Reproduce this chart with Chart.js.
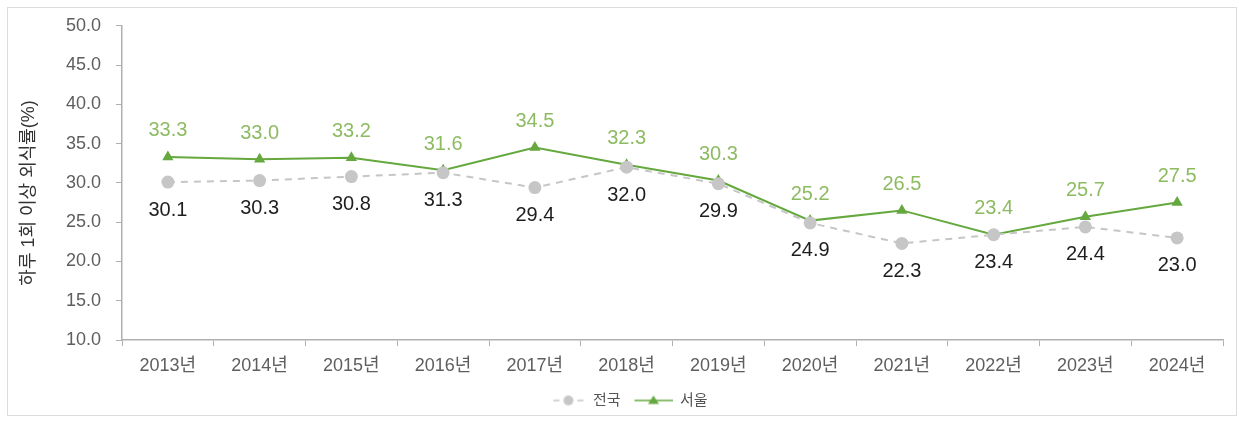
<!DOCTYPE html>
<html>
<head>
<meta charset="utf-8">
<script src="https://cdn.jsdelivr.net/npm/chart.js@4/dist/chart.umd.min.js"></script>
<style>
  html, body { margin: 0; padding: 0; background: #fff; }
  #wrap { width: 1239px; height: 421px; position: relative; }
</style>
</head>
<body>
<div id="wrap"><canvas id="c" width="1239" height="421"></canvas></div>
<script>
// 연도별 하루 1회 이상 외식률
const years = ['2013년','2014년','2015년','2016년','2017년','2018년','2019년','2020년','2021년','2022년','2023년','2024년'];
const nationwide = [30.1, 30.3, 30.8, 31.3, 29.4, 32.0, 29.9, 24.9, 22.3, 23.4, 24.4, 23.0];
const seoul = [33.3, 33.0, 33.2, 31.6, 34.5, 32.3, 30.3, 25.2, 26.5, 23.4, 25.7, 27.5];
const yTicks = [10, 15, 20, 25, 30, 35, 40, 45, 50];
const yTitle = '하루 1회 이상 외식률(%)';

const FONT = '"Liberation Sans", "Noto Sans CJK KR", sans-serif';
const GRAY = '#c6c6c6';
const GREEN = '#64a83e';
const GREEN_LABEL = '#8dbb62';
const TICK_COLOR = '#5e5e5e';
const ICON_W = 46;

// legend symbols: short line segment with the series marker in the middle
function legendSymbol(kind) {
  const cv = document.createElement('canvas');
  cv.width = ICON_W; cv.height = 14;
  const g = cv.getContext('2d');
  g.lineWidth = 1.5;
  if (kind === 'gray') {
    // dashed stub, dot, dashed stub (right-aligned next to its text)
    const x0 = ICON_W - 34;
    g.strokeStyle = GRAY;
    g.beginPath(); g.moveTo(x0 + 2, 7); g.lineTo(x0 + 8, 7); g.moveTo(x0 + 26, 7); g.lineTo(x0 + 32, 7); g.stroke();
    g.fillStyle = GRAY;
    g.beginPath(); g.arc(x0 + 17, 7, 5, 0, Math.PI * 2); g.fill();
  } else {
    // solid line with a triangle, after a small gap from the previous entry
    const x0 = ICON_W - 38;
    g.strokeStyle = GREEN;
    g.beginPath(); g.moveTo(x0, 7); g.lineTo(ICON_W, 7); g.stroke();
    g.fillStyle = GREEN;
    const cx = x0 + 19;
    g.beginPath(); g.moveTo(cx, 2); g.lineTo(cx + 5.5, 10.5); g.lineTo(cx - 5.5, 10.5); g.closePath(); g.fill();
  }
  return cv;
}
const legendIcons = [legendSymbol('gray'), legendSymbol('green')];

// value labels: 서울 above its points, 전국 below
const valueLabels = {
  id: 'valueLabels',
  afterDatasetsDraw(chart) {
    const ctx = chart.ctx;
    ctx.save();
    ctx.font = '20px ' + FONT;
    ctx.textAlign = 'center';
    ctx.textBaseline = 'middle';
    chart.data.datasets.forEach((ds, di) => {
      const meta = chart.getDatasetMeta(di);
      meta.data.forEach((pt, i) => {
        const v = ds.data[i].toFixed(1);
        if (di === 1) {
          ctx.fillStyle = GREEN_LABEL;
          ctx.fillText(v, pt.x, pt.y - 26);
        } else {
          ctx.fillStyle = '#1e1e1e';
          ctx.fillText(v, pt.x, pt.y + 28);
        }
      });
    });
    ctx.restore();
  }
};

// rotated y-axis caption, slightly below the axis midpoint
const axisCaption = {
  id: 'axisCaption',
  afterDraw(chart) {
    const ctx = chart.ctx;
    const a = chart.chartArea;
    ctx.save();
    ctx.translate(29, (a.top + a.bottom) / 2 + 10);
    ctx.rotate(-Math.PI / 2);
    ctx.font = '18px ' + FONT;
    ctx.fillStyle = '#333';
    ctx.textAlign = 'center';
    ctx.textBaseline = 'middle';
    ctx.fillText(yTitle, 0, 0);
    ctx.restore();
  }
};

// white background with a thin frame
const frame = {
  id: 'frame',
  beforeDraw(chart) {
    const ctx = chart.ctx;
    ctx.save();
    ctx.fillStyle = '#fff';
    ctx.fillRect(0, 0, chart.width, chart.height);
    ctx.strokeStyle = '#dcdcdc';
    ctx.lineWidth = 1;
    ctx.strokeRect(7.5, 7.5, 1229, 408);
    ctx.restore();
  }
};

new Chart(document.getElementById('c'), {
  type: 'line',
  data: {
    labels: years,
    datasets: [
      {
        label: '전국',
        data: nationwide,
        borderColor: GRAY,
        backgroundColor: GRAY,
        borderWidth: 2,
        borderDash: [7, 6],
        pointStyle: 'circle',
        pointRadius: 6.5,
        pointBorderWidth: 0,
        pointBackgroundColor: GRAY,
        tension: 0
      },
      {
        label: '서울',
        data: seoul,
        borderColor: GREEN,
        backgroundColor: GREEN,
        borderWidth: 2,
        pointStyle: 'triangle',
        pointRadius: 6.5,
        pointBorderWidth: 0,
        pointBackgroundColor: GREEN,
        tension: 0
      }
    ]
  },
  options: {
    responsive: false,
    animation: false,
    layout: { padding: { left: 24, right: 16, top: 24, bottom: 3 } },
    plugins: {
      tooltip: { enabled: false },
      legend: {
        position: 'bottom',
        labels: {
          usePointStyle: true,
          pointStyleWidth: ICON_W,
          boxHeight: 14,
          padding: 6,
          color: '#555',
          font: { family: FONT, size: 15 },
          generateLabels(chart) {
            return chart.data.datasets.map((ds, i) => ({
              text: ds.label,
              pointStyle: legendIcons[i],
              fillStyle: ds.backgroundColor,
              strokeStyle: ds.borderColor,
              lineWidth: 0,
              fontColor: '#555',
              hidden: false,
              datasetIndex: i
            }));
          }
        }
      }
    },
    scales: {
      x: {
        offset: true,
        grid: { display: true, offset: true, drawOnChartArea: false, color: '#b0b0b0', tickLength: 6 },
        border: { display: true, color: '#b0b0b0', width: 1.5 },
        ticks: { color: TICK_COLOR, font: { family: FONT, size: 18 }, padding: 9, maxRotation: 0 },
        afterFit(s) { s.height = 47; }
      },
      y: {
        min: 10,
        max: 50,
        afterBuildTicks(s) { s.ticks = yTicks.map(v => ({ value: v })); },
        grid: { display: true, drawOnChartArea: false, color: '#b0b0b0', tickLength: 6 },
        border: { display: true, color: '#b0b0b0', width: 1.5 },
        ticks: {
          color: TICK_COLOR,
          font: { family: FONT, size: 18 },
          padding: 15,
          callback: v => Number(v).toFixed(1)
        },
        afterFit(s) { s.width = 98; }
      }
    }
  },
  plugins: [frame, valueLabels, axisCaption]
});
</script>
</body>
</html>
